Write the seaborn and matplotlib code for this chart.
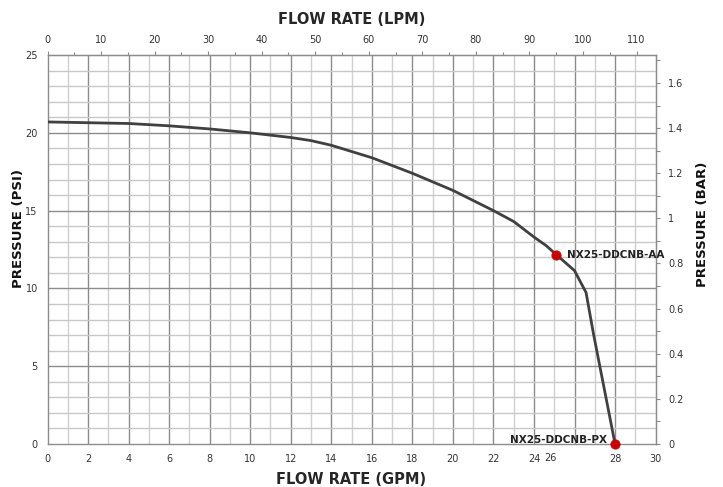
import matplotlib
matplotlib.use("Agg")
from matplotlib import pyplot as plt
from matplotlib.ticker import FixedLocator
import seaborn as sns
import pandas as pd
import numpy as np

# pump curve (GPM, PSI)
flow_gpm = [0, 2, 4, 6, 8, 10, 12, 13, 14, 16, 18, 20, 22, 23, 24, 24.6, 25.1, 26.0, 26.57, 26.93, 28]
pressure_psi = [20.7, 20.65, 20.6, 20.45, 20.25, 20.0, 19.7, 19.5, 19.2, 18.4, 17.4, 16.3, 15.0, 14.3, 13.3, 12.75, 12.17, 11.14, 9.73, 7.11, 0]

model_names = ["NX25-DDCNB-AA", "NX25-DDCNB-PX"]
model_gpm = [25.1, 28.0]
model_psi = [12.17, 0.0]

gpm_ticks = list(range(0, 31, 2))
psi_ticks = [0, 5, 10, 15, 20, 25]
lpm_ticks = list(range(0, 111, 10))
bar_ticks = [0, 0.2, 0.4, 0.6, 0.8, 1.0, 1.2, 1.4, 1.6]

PSI_TO_BAR = 0.0689476
GPM_TO_LPM = 3.78541

curve = pd.DataFrame({"gpm": flow_gpm, "psi": pressure_psi})
points = pd.DataFrame({"name": model_names, "gpm": model_gpm, "psi": model_psi})

sns.set_style("white")
plt.rcParams["font.family"] = ["DejaVu Sans"]

fig = plt.figure(figsize=(7.23, 4.87), dpi=100)
ax = fig.add_axes([0.0657, 0.0883, 0.8411, 0.7987])

# grid
for g in range(1, 30):
    ax.axvline(g, color="#8c8c8c" if g % 2 == 0 else "#d0d0d0", lw=1, zorder=0)
for p in range(1, 25):
    ax.axhline(p, color="#8c8c8c" if p % 5 == 0 else "#c8c8c8", lw=1, zorder=0)

sns.lineplot(data=curve, x="gpm", y="psi", ax=ax, color="#404040", lw=2, zorder=3)
sns.scatterplot(data=points, x="gpm", y="psi", ax=ax, color="#cc0000", s=45,
                edgecolor="#cc0000", zorder=4, clip_on=False)

ax.text(model_gpm[0] + 0.55, model_psi[0], model_names[0], fontsize=7.5,
        fontweight="bold", va="center", ha="left", color="#222222", zorder=5)
ax.text(model_gpm[1] - 0.4, model_psi[1] + 0.25, model_names[1], fontsize=7.5,
        fontweight="bold", va="center", ha="right", color="#222222", zorder=5)

ax.set_xlim(0, 30)
ax.set_ylim(0, 25)
ax.set_yticks(psi_ticks)
ax.set_xticks([v for v in gpm_ticks if v != 26])
ax.set_xticks([26], minor=True)
# the 26 label sits off its tick in the original
ax.text(24.8, -0.55, "26", fontsize=7, ha="center", va="top", color="#333333")
ax.tick_params(axis="both", which="both", direction="out", length=3, width=0.8,
               color="#8c8c8c", labelsize=7, labelcolor="#333333", pad=4)
for s in ax.spines.values():
    s.set_color("#8c8c8c")
    s.set_linewidth(1)

ax.set_xlabel("FLOW RATE (GPM)", fontsize=10.5, fontweight="heavy", labelpad=6)
ax.set_ylabel("")
fig.text(0.025, 0.53, "PRESSURE (PSI)", rotation=90, fontsize=9.5, fontweight="heavy",
         ha="center", va="center", color="#111111")

top = ax.secondary_xaxis("top", functions=(lambda x: x * GPM_TO_LPM, lambda x: x / GPM_TO_LPM))
top.xaxis.set_major_locator(FixedLocator(lpm_ticks))
top.xaxis.set_minor_locator(FixedLocator(list(range(5, 115, 10))))
top.tick_params(which="both", direction="out", length=3, width=0.8, color="#8c8c8c",
                labelsize=7, labelcolor="#333333", pad=4)
top.tick_params(which="minor", length=2)
top.spines["top"].set_color("#8c8c8c")
top.set_xlabel("FLOW RATE (LPM)", fontsize=10.5, fontweight="heavy", labelpad=8)

right = ax.secondary_yaxis("right", functions=(lambda y: y * PSI_TO_BAR, lambda y: y / PSI_TO_BAR))
right.yaxis.set_major_locator(FixedLocator(bar_ticks))
right.yaxis.set_minor_locator(FixedLocator([round(v, 1) for v in np.arange(0.1, 1.75, 0.2)]))
right.yaxis.set_major_formatter(plt.FuncFormatter(lambda v, p: f"{v:g}"))
right.tick_params(which="both", direction="out", length=3, width=0.8, color="#8c8c8c",
                  labelsize=7, labelcolor="#333333", pad=6)
right.spines["right"].set_color("#8c8c8c")
fig.text(0.972, 0.54, "PRESSURE (BAR)", rotation=90, fontsize=9.5, fontweight="heavy",
         ha="center", va="center", color="#111111")

fig.savefig("out.png", dpi=100)
